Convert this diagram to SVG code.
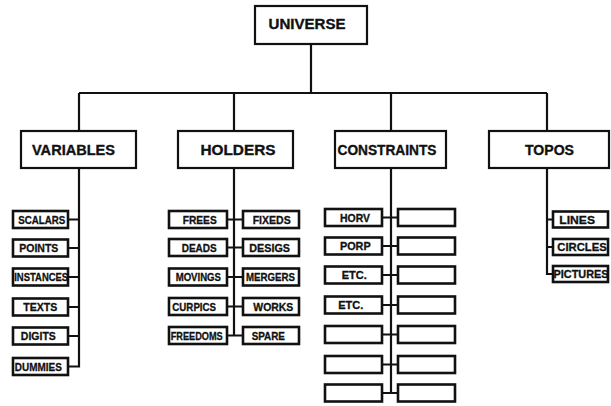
<svg xmlns="http://www.w3.org/2000/svg" width="611" height="406" viewBox="0 0 611 406">
<style>
.bx{fill:#fff;stroke:#111;stroke-width:2.2}
.sb{fill:#fff;stroke:#111;stroke-width:2.6}
.ln{fill:none;stroke:#111;stroke-width:2.2}
.t{font-family:"Liberation Sans",Arial,sans-serif;font-weight:bold;font-size:14.5px;fill:#111;stroke:#111;stroke-width:0.35;text-anchor:middle}
.s{font-family:"Liberation Sans",Arial,sans-serif;font-weight:bold;font-size:11px;fill:#111;stroke:#111;stroke-width:0.3;text-anchor:middle}
</style>
<rect width="611" height="406" fill="#fff"/>
<g id="connectors">
<path class="ln" d="M311,44V93M79,93H547M79,93V131M234,93V131M391,93V131M547,93V131"/>
<path class="ln" d="M79,168V366.5H68M68,219.5H79M68,248H79M68,277H79M68,307H79M68,336H79"/>
<path class="ln" d="M234,168V335.5M227,219.5H243M227,247.5H243M227,277H243M227,306.5H243M227,335.5H243"/>
<path class="ln" d="M391,168V393M382,217.5H398M382,246H398M382,275H398M382,305H398M382,334.5H398M382,364.5H398M382,393H398"/>
<path class="ln" d="M547,168V274H553M547,219.5H553M547,247H553"/>
</g>
<g id="universe"><rect class="bx" x="255" y="6" width="112" height="38"/><text class="t" x="307" y="28.5" textLength="77" lengthAdjust="spacingAndGlyphs">UNIVERSE</text></g>
<g id="variables"><rect class="bx" x="21" y="131" width="115" height="37"/><text class="t" x="73.5" y="154.5" textLength="83" lengthAdjust="spacingAndGlyphs">VARIABLES</text></g>
<g id="holders"><rect class="bx" x="178" y="131" width="115" height="37"/><text class="t" x="238" y="154.5" textLength="75" lengthAdjust="spacingAndGlyphs">HOLDERS</text></g>
<g id="constraints"><rect class="bx" x="335" y="131" width="111" height="37"/><text class="t" x="387" y="154.5" textLength="99" lengthAdjust="spacingAndGlyphs">CONSTRAINTS</text></g>
<g id="topos"><rect class="bx" x="489" y="131" width="120" height="37"/><text class="t" x="549.5" y="154.5" textLength="49" lengthAdjust="spacingAndGlyphs">TOPOS</text></g>

<g id="scalars"><rect class="sb" x="13" y="211" width="55" height="17"/><text class="s" x="41.7" y="223.5" textLength="47" lengthAdjust="spacingAndGlyphs">SCALARS</text></g>
<g id="points"><rect class="sb" x="13" y="239.5" width="55" height="17"/><text class="s" x="38.8" y="252" textLength="39" lengthAdjust="spacingAndGlyphs">POINTS</text></g>
<g id="instances"><rect class="sb" x="13" y="268.5" width="55" height="17"/><text class="s" x="41.2" y="281" textLength="54" lengthAdjust="spacingAndGlyphs">INSTANCES</text></g>
<g id="texts"><rect class="sb" x="13" y="298.5" width="55" height="17"/><text class="s" x="40.3" y="311" textLength="34" lengthAdjust="spacingAndGlyphs">TEXTS</text></g>
<g id="digits"><rect class="sb" x="13" y="327.5" width="55" height="17"/><text class="s" x="38.3" y="340" textLength="35" lengthAdjust="spacingAndGlyphs">DIGITS</text></g>
<g id="dummies"><rect class="sb" x="13" y="358" width="55" height="17"/><text class="s" x="38.3" y="370.5" textLength="47" lengthAdjust="spacingAndGlyphs">DUMMIES</text></g>

<g id="frees"><rect class="sb" x="169" y="211" width="58" height="17"/><text class="s" x="199.7" y="223.5" textLength="34" lengthAdjust="spacingAndGlyphs">FREES</text></g>
<g id="fixeds"><rect class="sb" x="243" y="211" width="56" height="17"/><text class="s" x="271.7" y="223.5" textLength="38" lengthAdjust="spacingAndGlyphs">FIXEDS</text></g>
<g id="deads"><rect class="sb" x="169" y="239" width="58" height="17"/><text class="s" x="199.2" y="251.5" textLength="35" lengthAdjust="spacingAndGlyphs">DEADS</text></g>
<g id="desigs"><rect class="sb" x="243" y="239" width="56" height="17"/><text class="s" x="269.7" y="251.5" textLength="40.7" lengthAdjust="spacingAndGlyphs">DESIGS</text></g>
<g id="movings"><rect class="sb" x="169" y="268.5" width="58" height="17"/><text class="s" x="198.3" y="281" textLength="45.3" lengthAdjust="spacingAndGlyphs">MOVINGS</text></g>
<g id="mergers"><rect class="sb" x="243" y="268.5" width="56" height="17"/><text class="s" x="270.5" y="281" textLength="49" lengthAdjust="spacingAndGlyphs">MERGERS</text></g>
<g id="curpics"><rect class="sb" x="169" y="298" width="58" height="17"/><text class="s" x="194.2" y="310.5" textLength="43.7" lengthAdjust="spacingAndGlyphs">CURPICS</text></g>
<g id="works"><rect class="sb" x="243" y="298" width="56" height="17"/><text class="s" x="273.3" y="310.5" textLength="40" lengthAdjust="spacingAndGlyphs">WORKS</text></g>
<g id="freedoms"><rect class="sb" x="169" y="327" width="58" height="17"/><text class="s" x="196.7" y="339.5" textLength="52" lengthAdjust="spacingAndGlyphs">FREEDOMS</text></g>
<g id="spare"><rect class="sb" x="243" y="327" width="56" height="17"/><text class="s" x="268.3" y="339.5" textLength="33.3" lengthAdjust="spacingAndGlyphs">SPARE</text></g>

<g id="horv"><rect class="sb" x="325" y="209" width="57" height="17"/><text class="s" x="355" y="221.5" textLength="30" lengthAdjust="spacingAndGlyphs">HORV</text></g>
<g id="c1r"><rect class="sb" x="398" y="209" width="57" height="17"/></g>
<g id="porp"><rect class="sb" x="325" y="237.5" width="57" height="17"/><text class="s" x="355.3" y="250" textLength="30.7" lengthAdjust="spacingAndGlyphs">PORP</text></g>
<g id="c2r"><rect class="sb" x="398" y="237.5" width="57" height="17"/></g>
<g id="etc1"><rect class="sb" x="325" y="266.5" width="57" height="17"/><text class="s" x="354.2" y="279" textLength="25" lengthAdjust="spacingAndGlyphs">ETC.</text></g>
<g id="c3r"><rect class="sb" x="398" y="266.5" width="57" height="17"/></g>
<g id="etc2"><rect class="sb" x="325" y="296.5" width="57" height="17"/><text class="s" x="350.8" y="309" textLength="25" lengthAdjust="spacingAndGlyphs">ETC.</text></g>
<g id="c4r"><rect class="sb" x="398" y="296.5" width="57" height="17"/></g>
<g id="c5l"><rect class="sb" x="325" y="326" width="57" height="17"/></g>
<g id="c5r"><rect class="sb" x="398" y="326" width="57" height="17"/></g>
<g id="c6l"><rect class="sb" x="325" y="356" width="57" height="17"/></g>
<g id="c6r"><rect class="sb" x="398" y="356" width="57" height="17"/></g>
<g id="c7l"><rect class="sb" x="325" y="384.5" width="57" height="17"/></g>
<g id="c7r"><rect class="sb" x="398" y="384.5" width="57" height="17"/></g>

<g id="lines"><rect class="sb" x="553" y="211.5" width="55" height="16"/><text class="s" x="577.2" y="223.5" textLength="35.7" lengthAdjust="spacingAndGlyphs">LINES</text></g>
<g id="circles"><rect class="sb" x="553" y="239" width="55" height="16"/><text class="s" x="582" y="251" textLength="49.4" lengthAdjust="spacingAndGlyphs">CIRCLES</text></g>
<g id="pictures"><rect class="sb" x="553" y="266" width="55" height="16"/><text class="s" x="581" y="278" textLength="55" lengthAdjust="spacingAndGlyphs">PICTURES</text></g>
</svg>
